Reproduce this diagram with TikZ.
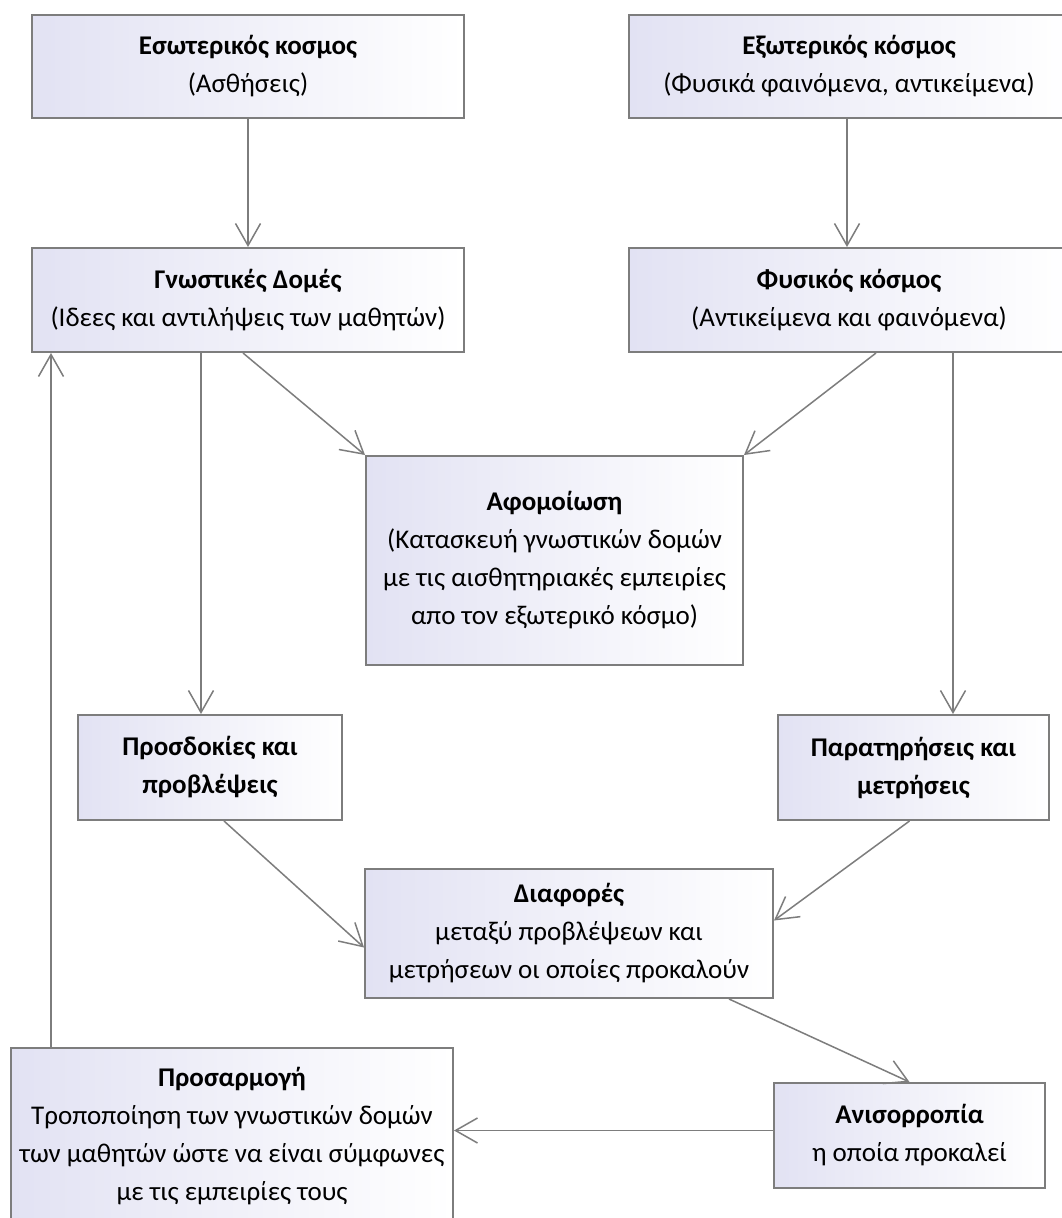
\documentclass[tikz,border=0pt]{standalone}
\usepackage{fontspec}
\setmainfont{Carlito}
\usetikzlibrary{arrows.meta,calc}
\definecolor{edgegray}{RGB}{125,125,125}
\definecolor{lav}{RGB}{226,226,243}
\begin{document}
\begin{tikzpicture}[x=1pt,y=-1pt,
  box/.style={draw=edgegray, line width=2pt, left color=lav, right color=white,
    align=center, font=\fontsize{27}{38}\selectfont, inner sep=0pt},
  conn/.style={draw=edgegray, line width=1.5pt,
    -{Straight Barb[length=22pt,width=25pt,line width=1.5pt]}}]
\useasboundingbox (0,0) rectangle (1062,1218);
\clip (0,0) rectangle (1062,1218);
\fill[white] (0,0) rectangle (1062,1218);

\node[box, minimum width=432pt, minimum height=103pt] (b1) at (248,66.5)
  {\textbf{Εσωτερικός κοσμος}\\(Ασθήσεις)};
\node[box, minimum width=440pt, minimum height=103pt] (b2) at (849,66.5)
  {\textbf{Εξωτερικός κόσμος}\\(Φυσικά φαινόμενα, αντικείμενα)};
\node[box, minimum width=432pt, minimum height=104pt] (b3) at (248,300)
  {\textbf{Γνωστικές Δομές}\\(Ιδεες και αντιλήψεις των μαθητών)};
\node[box, minimum width=440pt, minimum height=104pt] (b4) at (849,300)
  {\textbf{Φυσικός κόσμος}\\(Αντικείμενα και φαινόμενα)};
\node[box, minimum width=377pt, minimum height=209pt] (afo) at (554.5,560.5)
  {\textbf{Αφομοίωση}\\(Κατασκευή γνωστικών δομών\\με τις αισθητηριακές εμπειρίες\\απο τον εξωτερικό κόσμο)};
\node[box, minimum width=264pt, minimum height=105pt] (pro) at (210,767.5)
  {\textbf{Προσδοκίες και}\\\textbf{προβλέψεις}};
\node[box, minimum width=271pt, minimum height=105pt] (par) at (913.5,767.5)
  {\textbf{Παρατηρήσεις και}\\\textbf{μετρήσεις}};
\node[box, minimum width=408pt, minimum height=129pt] (dia) at (569,933.5)
  {\textbf{Διαφορές}\\μεταξύ προβλέψεων και\\μετρήσεων οι οποίες προκαλούν};
\node[box, minimum width=271pt, minimum height=105pt] (ani) at (909.5,1135.5)
  {\textbf{Ανισορροπία}\\η οποία προκαλεί};
\node[box, minimum width=442pt, minimum height=176pt] (pra) at (232,1136)
  {\textbf{Προσαρμογή}\\Τροποποίηση των γνωστικών δομών\\των μαθητών ώστε να είναι σύμφωνες\\με τις εμπειρίες τους};

\coordinate (c2) at ($(b2.south)+(-2,0)$);
\coordinate (c3a) at ($(b3.south)+(-5,0)$);
\coordinate (c3b) at ($(b3.south)+(-47,0)$);
\coordinate (c4a) at ($(b4.south)+(27,0)$);
\coordinate (c4b) at ($(b4.south)+(104,0)$);
\coordinate (cp) at ($(pro.south)+(14,0)$);
\coordinate (cdl) at ($(dia.west)+(0,14)$);
\coordinate (cpar) at ($(par.south)+(-4,0)$);
\coordinate (cdr) at ($(dia.east)+(0,-13)$);
\coordinate (cds) at ($(dia.south)+(160,0)$);
\coordinate (caw) at ($(ani.west)+(0,-5)$);
\coordinate (cfb) at ($(pra.north west)+(41,0)$);

\draw[conn] (b1.south) -- (b3.north);
\draw[conn] (c2) -- (c2 |- b4.north);
\draw[conn] (c3a) -- (afo.north west);
\draw[conn] (c4a) -- (afo.north east);
\draw[conn] (c3b) -- (c3b |- pro.north);
\draw[conn] (c4b) -- (c4b |- par.north);
\draw[conn] (cp) -- (cdl);
\draw[conn] (cpar) -- (cdr);
\draw[conn] (cds) -- (ani.north);
\draw[conn] (caw) -- (caw -| pra.east);
\draw[conn] (cfb) -- (cfb |- b3.south);
\end{tikzpicture}
\end{document}
